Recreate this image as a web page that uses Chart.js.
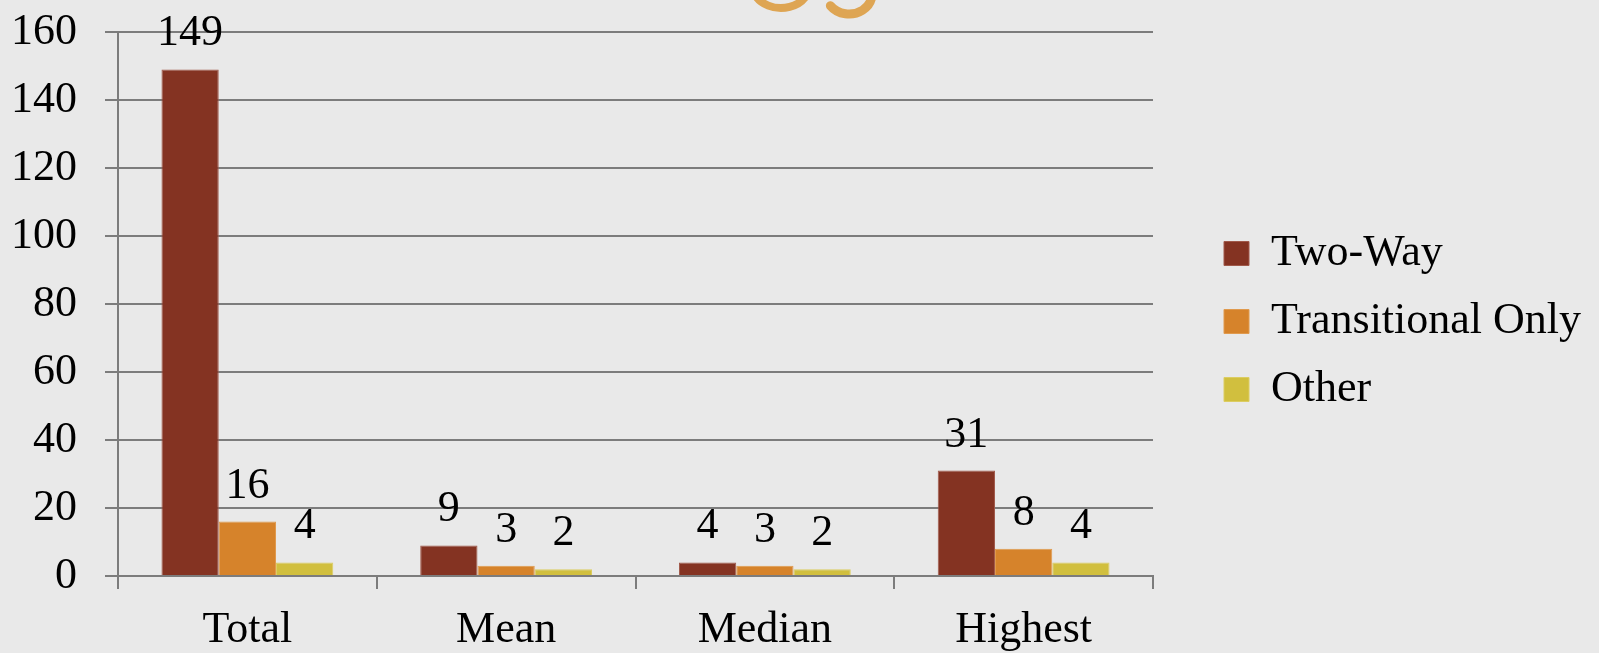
<!DOCTYPE html>
<html>
<head>
<meta charset="utf-8">
<script src="https://cdn.jsdelivr.net/npm/chart.js@4"></script>
<style>
  html, body { margin: 0; padding: 0; background: #e9e9e9; }
  #wrap { width: 1599px; height: 653px; position: relative; }
</style>
</head>
<body>
<div id="wrap"><canvas id="chart"></canvas></div>
<script>
// Categories and series
const categories = ['Total', 'Mean', 'Median', 'Highest'];
const twoWay = [149, 9, 4, 31];
const transitionalOnly = [16, 3, 3, 8];
const other = [4, 2, 2, 4];
const yTicks = [0, 20, 40, 60, 80, 100, 120, 140, 160];

const FONT = "'Liberation Serif', 'Times New Roman', serif";
const GRID = '#7c7c7c';

Chart.defaults.font.family = FONT;
Chart.defaults.font.size = 44;
Chart.defaults.color = '#000';

// Value labels above each bar
const barLabels = {
  id: 'barLabels',
  afterDatasetsDraw(chart) {
    const ctx = chart.ctx;
    ctx.save();
    ctx.font = `44px ${FONT}`;
    ctx.fillStyle = '#000';
    ctx.textAlign = 'center';
    ctx.textBaseline = 'alphabetic';
    chart.data.datasets.forEach((ds, i) => {
      chart.getDatasetMeta(i).data.forEach((bar, j) => {
        ctx.fillText(String(ds.data[j]), bar.x, bar.y - 24);
      });
    });
    ctx.restore();
  },
};

// Keep a gap between plot area and legend, like the slide layout
const legendGap = {
  id: 'legendGap',
  afterInit(chart) {
    const lg = chart.legend;
    const fit = lg.fit.bind(lg);
    lg.fit = function () {
      fit();
      this.width = 446;
    };
  },
  afterLayout(chart) {
    const lg = chart.legend;
    lg.left += 47;
    lg.top -= 21;
    lg.bottom -= 21;
  },
};

// Cut-off ornament at the top of the slide
const ornament = {
  id: 'ornament',
  beforeDraw(chart) {
    const ctx = chart.ctx;
    ctx.save();
    ctx.strokeStyle = '#dea553';
    ctx.lineCap = 'round';
    ctx.lineWidth = 8;
    ctx.beginPath();
    ctx.ellipse(781, -14, 28, 22, 0, 0.15 * Math.PI, 0.95 * Math.PI);
    ctx.stroke();
    ctx.lineWidth = 9;
    ctx.beginPath();
    ctx.ellipse(849, -6, 23, 20, 0, 0.05 * Math.PI, 0.8 * Math.PI);
    ctx.stroke();
    ctx.restore();
  },
};

new Chart(document.getElementById('chart'), {
  type: 'bar',
  data: {
    labels: categories,
    datasets: [
      { label: 'Two-Way', data: twoWay, backgroundColor: '#843322', borderColor: '#a0594a', borderWidth: 1 },
      { label: 'Transitional Only', data: transitionalOnly, backgroundColor: '#d6832b', borderColor: '#e09a4e', borderWidth: 1 },
      { label: 'Other', data: other, backgroundColor: '#d1bf3e', borderColor: '#dccd62', borderWidth: 1 },
    ],
  },
  options: {
    responsive: true,
    maintainAspectRatio: false,
    animation: false,
    layout: { padding: { top: 32, right: 0, bottom: 0, left: 0 } },
    datasets: { bar: { categoryPercentage: 0.664, barPercentage: 1 } },
    plugins: {
      tooltip: { enabled: false },
      legend: {
        position: 'right',
        labels: {
          boxWidth: 25,
          boxHeight: 24,
          padding: 24,
          color: '#000',
          font: { size: 44, family: FONT },
        },
      },
    },
    scales: {
      x: {
        grid: { drawOnChartArea: false, drawTicks: true, tickLength: 13, color: GRID, lineWidth: 2 },
        border: { color: GRID, width: 2 },
        ticks: { padding: 15, color: '#000', font: { size: 44 } },
        afterFit(scale) { scale.height = 77; scale.paddingLeft = 0; scale.paddingRight = 0; },
      },
      y: {
        min: 0,
        max: 160,
        afterBuildTicks(scale) { scale.ticks = yTicks.map((v) => ({ value: v })); },
        grid: { color: GRID, lineWidth: 2, tickLength: 13 },
        border: { color: GRID, width: 2 },
        ticks: { padding: 28, color: '#000', font: { size: 44 } },
        afterFit(scale) { scale.width = 118; scale.paddingTop = 0; scale.paddingBottom = 0; },
      },
    },
  },
  plugins: [barLabels, legendGap, ornament],
});
</script>
</body>
</html>
